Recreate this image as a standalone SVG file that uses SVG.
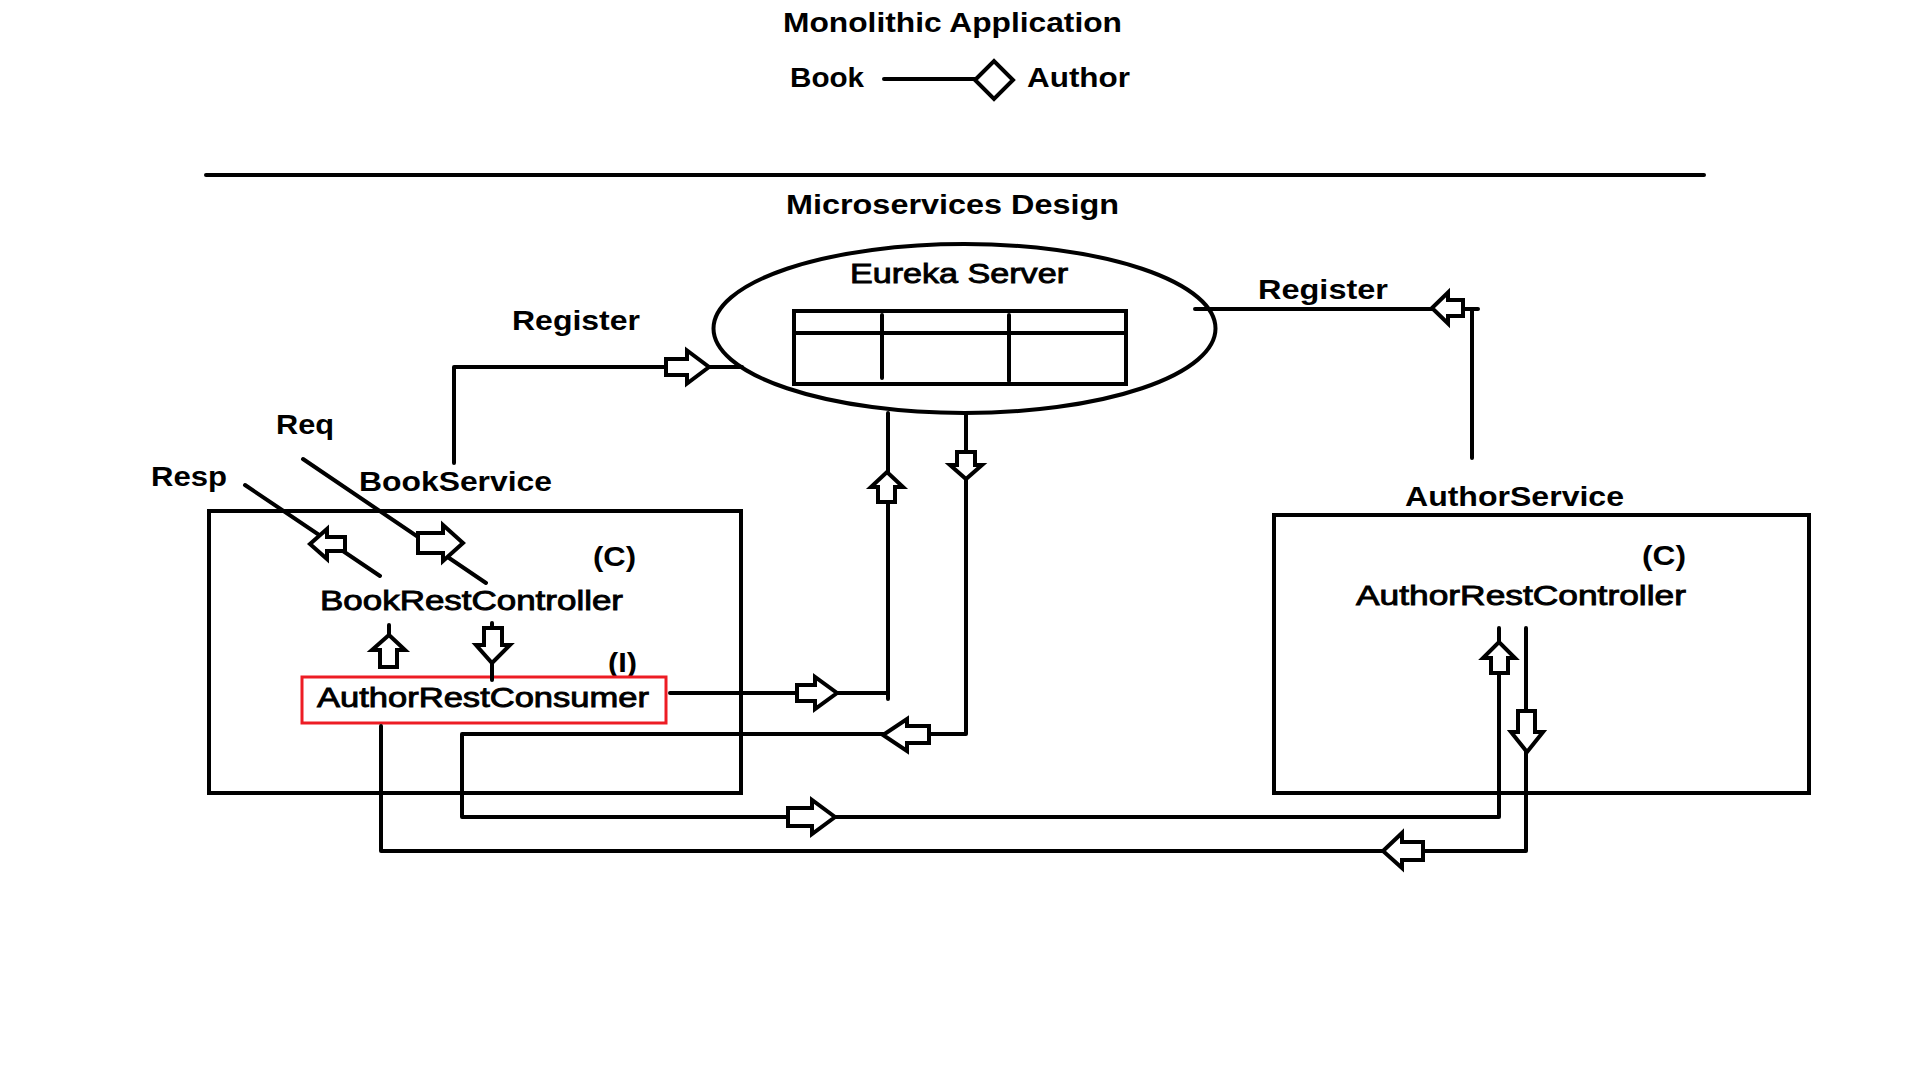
<svg xmlns="http://www.w3.org/2000/svg" width="1914" height="1072" viewBox="0 0 1914 1072">
<style>
text{font-family:"Liberation Sans",Arial,sans-serif;fill:#000;font-size:28px}
.b{font-weight:bold}
.m{stroke:#000;stroke-width:0.9}
.ln{fill:none;stroke:#000;stroke-width:4;stroke-linecap:round;stroke-linejoin:round}
.box{fill:none;stroke:#000;stroke-width:4}
.ha{fill:#fff;stroke:#000;stroke-width:4;stroke-linejoin:miter}
</style>
<rect width="1914" height="1072" fill="#fff"/>
<g id="mono">
<text class="b" x="783" y="32" font-size="26" textLength="339" lengthAdjust="spacingAndGlyphs">Monolithic Application</text>
<g id="book"><text class="b" x="790" y="87" textLength="74" lengthAdjust="spacingAndGlyphs">Book</text></g>
<g id="author"><text class="b" x="1027" y="87" textLength="103" lengthAdjust="spacingAndGlyphs">Author</text></g>
</g>
<g id="separator"><path class="ln" d="M206,175 H1704" stroke-width="5"/></g>
<text class="b" x="786" y="214" font-size="27" textLength="333" lengthAdjust="spacingAndGlyphs">Microservices Design</text>
<g id="eureka">
<ellipse class="box" cx="964.5" cy="328.5" rx="251" ry="84.5"/>
<text class="m" x="850" y="283" textLength="218" lengthAdjust="spacingAndGlyphs">Eureka Server</text>
<rect class="box" x="794" y="311" width="332" height="73"/>
<path class="ln" d="M794,333 H1126 M882,315 V378 M1009,315 V381" stroke-linecap="butt"/>
</g>
<g id="book-service">
<rect class="box" x="209" y="511" width="532" height="282"/>
<text class="b" x="359" y="491" textLength="193" lengthAdjust="spacingAndGlyphs">BookService</text>
<text class="b" x="593" y="566" textLength="43" lengthAdjust="spacingAndGlyphs">(C)</text>
<g id="book-rest-controller"><text class="m" x="320" y="610" textLength="303" lengthAdjust="spacingAndGlyphs">BookRestController</text></g>
<text class="b" x="608" y="672" textLength="29" lengthAdjust="spacingAndGlyphs">(I)</text>
<g id="author-rest-consumer">
<rect x="302" y="677" width="364" height="46" fill="none" stroke="#ed1c24" stroke-width="3"/>
<text class="m" x="317" y="707" textLength="332" lengthAdjust="spacingAndGlyphs">AuthorRestConsumer</text>
</g>
</g>
<g id="author-service">
<rect class="box" x="1274" y="515" width="535" height="278"/>
<text class="b" x="1405" y="506" textLength="219" lengthAdjust="spacingAndGlyphs">AuthorService</text>
<text class="b" x="1642" y="565" textLength="44" lengthAdjust="spacingAndGlyphs">(C)</text>
<g id="author-rest-controller"><text class="m" x="1356" y="605" textLength="330" lengthAdjust="spacingAndGlyphs">AuthorRestController</text></g>
</g>
<g id="labels">
<text class="b" x="512" y="330" textLength="128" lengthAdjust="spacingAndGlyphs">Register</text>
<text class="b" x="1258" y="299" textLength="130" lengthAdjust="spacingAndGlyphs">Register</text>
<text class="b" x="276" y="434" textLength="58" lengthAdjust="spacingAndGlyphs">Req</text>
<text class="b" x="151" y="486" textLength="76" lengthAdjust="spacingAndGlyphs">Resp</text>
</g>
<g id="connectors">
<path class="ln" d="M884,79 H975"/>
<polygon class="ha" points="975,80 994,61 1013,80 994,99"/>
<path class="ln" d="M454,463 V367 H742"/>
<path class="ln" d="M1472,458 V309 M1195,309 H1478"/>
<path class="ln" d="M303,459 L486,583"/>
<path class="ln" d="M245,485 L380,576"/>
<path class="ln" d="M389,625 V667"/>
<path class="ln" d="M492,623 V680"/>
<path class="ln" d="M670,693 H888 M888,413 V699"/>
<path class="ln" d="M966,415 V734 H462 V817 H1499 V628"/>
<path class="ln" d="M1526,628 V851 H381 V726"/>
<polygon class="ha" points="666,359 687,359 687,350.5 709,367 687,383.5 687,375 666,375"/>
<polygon class="ha" points="1463,300 1448,300 1448,292.5 1432,308 1448,323.5 1448,316 1463,316"/>
<polygon class="ha" points="418,533 443,533 443,525 463,543 443,561 443,553 418,553"/>
<polygon class="ha" points="345,537 327,537 327,529 310,544 327,559 327,551 345,551"/>
<polygon class="ha" points="380,667 380,650 372,650 389,635 405,650 397,650 397,667"/>
<polygon class="ha" points="484,628 502,628 502,645 510,645 492,663 476,645 484,645"/>
<polygon class="ha" points="797,685 815,685 815,677 837,693 815,709 815,701 797,701"/>
<polygon class="ha" points="878,502 878,487 871,487 887,472 903,487 895,487 895,502"/>
<polygon class="ha" points="957,452 975,452 975,465 982,465 966,479 950,465 957,465"/>
<polygon class="ha" points="929,726 907,726 907,719 883,735 907,751 907,743 929,743"/>
<polygon class="ha" points="788,808 812,808 812,800 835,817 812,834 812,826 788,826"/>
<polygon class="ha" points="1491,673 1491,658 1483,658 1499,642 1515,658 1508,658 1508,673"/>
<polygon class="ha" points="1518,711 1535,711 1535,732 1543,732 1527,752 1511,732 1518,732"/>
<polygon class="ha" points="1423,842 1402,842 1402,833 1383,851 1402,868 1402,860 1423,860"/>
</g>
</svg>
